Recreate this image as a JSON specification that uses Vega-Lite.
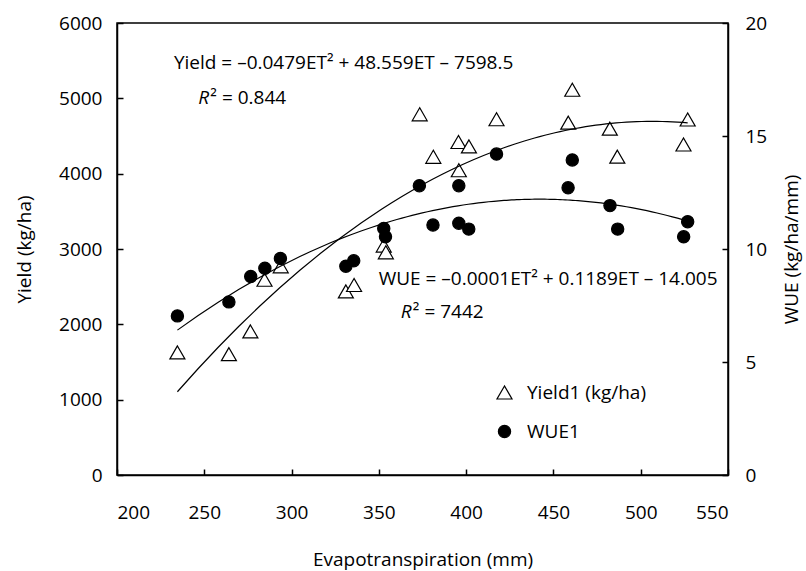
{
  "$schema": "https://vega.github.io/schema/vega-lite/v6.json",
  "width": 611,
  "height": 452,
  "autosize": {"type": "none"},
  "padding": {"left": 117, "top": 23, "right": 78, "bottom": 96},
  "background": "white",
  "config": {
    "font": "Open Sans",
    "view": {"stroke": "black", "strokeWidth": 1.5},
    "axis": {
      "grid": false,
      "domainColor": "black",
      "domainWidth": 1.5,
      "tickColor": "black",
      "tickWidth": 1.5,
      "tickSize": -6,
      "labelColor": "black",
      "labelFont": "Open Sans",
      "labelFontSize": 19,
      "titleFont": "Open Sans",
      "titleFontSize": 19,
      "titleFontWeight": "normal",
      "titleColor": "black"
    },
    "legend": {
      "orient": "none",
      "legendX": 378,
      "legendY": 360,
      "padding": 0,
      "labelFont": "Open Sans",
      "labelFontSize": 19,
      "labelColor": "black",
      "labelOffset": 13,
      "rowPadding": 19,
      "symbolStrokeColor": "black",
      "symbolStrokeWidth": 1.2
    }
  },
  "datasets": {
    "points": [
      {"ET": 234.6, "series": "Yield1 (kg/ha)", "value": 1628},
      {"ET": 264.1, "series": "Yield1 (kg/ha)", "value": 1604},
      {"ET": 276.4, "series": "Yield1 (kg/ha)", "value": 1907},
      {"ET": 284.5, "series": "Yield1 (kg/ha)", "value": 2592},
      {"ET": 293.8, "series": "Yield1 (kg/ha)", "value": 2770},
      {"ET": 331.1, "series": "Yield1 (kg/ha)", "value": 2438},
      {"ET": 335.8, "series": "Yield1 (kg/ha)", "value": 2522},
      {"ET": 352.8, "series": "Yield1 (kg/ha)", "value": 3046},
      {"ET": 354.0, "series": "Yield1 (kg/ha)", "value": 2956},
      {"ET": 373.4, "series": "Yield1 (kg/ha)", "value": 4788},
      {"ET": 381.2, "series": "Yield1 (kg/ha)", "value": 4224},
      {"ET": 395.6, "series": "Yield1 (kg/ha)", "value": 4420},
      {"ET": 395.8, "series": "Yield1 (kg/ha)", "value": 4045},
      {"ET": 401.6, "series": "Yield1 (kg/ha)", "value": 4362},
      {"ET": 417.4, "series": "Yield1 (kg/ha)", "value": 4722},
      {"ET": 458.5, "series": "Yield1 (kg/ha)", "value": 4677},
      {"ET": 460.8, "series": "Yield1 (kg/ha)", "value": 5114},
      {"ET": 482.3, "series": "Yield1 (kg/ha)", "value": 4598},
      {"ET": 486.6, "series": "Yield1 (kg/ha)", "value": 4226},
      {"ET": 524.5, "series": "Yield1 (kg/ha)", "value": 4387},
      {"ET": 526.9, "series": "Yield1 (kg/ha)", "value": 4719},
      {"ET": 234.6, "series": "WUE1", "value": 7.04},
      {"ET": 264.1, "series": "WUE1", "value": 7.66},
      {"ET": 276.6, "series": "WUE1", "value": 8.78},
      {"ET": 284.7, "series": "WUE1", "value": 9.15},
      {"ET": 293.6, "series": "WUE1", "value": 9.58},
      {"ET": 331.1, "series": "WUE1", "value": 9.24},
      {"ET": 335.6, "series": "WUE1", "value": 9.48},
      {"ET": 352.8, "series": "WUE1", "value": 10.91},
      {"ET": 353.8, "series": "WUE1", "value": 10.54},
      {"ET": 373.2, "series": "WUE1", "value": 12.80},
      {"ET": 381.0, "series": "WUE1", "value": 11.06},
      {"ET": 395.8, "series": "WUE1", "value": 12.80},
      {"ET": 395.8, "series": "WUE1", "value": 11.14},
      {"ET": 401.5, "series": "WUE1", "value": 10.88},
      {"ET": 417.4, "series": "WUE1", "value": 14.20},
      {"ET": 458.4, "series": "WUE1", "value": 12.71},
      {"ET": 460.8, "series": "WUE1", "value": 13.94},
      {"ET": 482.4, "series": "WUE1", "value": 11.92},
      {"ET": 486.8, "series": "WUE1", "value": 10.88},
      {"ET": 524.6, "series": "WUE1", "value": 10.54},
      {"ET": 526.9, "series": "WUE1", "value": 11.21}
    ],
    "notes": [
      {"ET": 232.6, "value": 5465, "part": "eq", "label": "Yield = –0.0479ET² + 48.559ET – 7598.5"},
      {"ET": 246.6, "value": 5000, "part": "r", "label": "R"},
      {"ET": 246.6, "value": 5000, "part": "rest", "label": "² = 0.844"},
      {"ET": 349.9, "value": 2605, "part": "eq", "label": "WUE = –0.0001ET² + 0.1189ET – 14.005"},
      {"ET": 362.6, "value": 2158, "part": "r", "label": "R"},
      {"ET": 362.6, "value": 2158, "part": "rest", "label": "² = 7442"}
    ]
  },
  "layer": [
    {
      "encoding": {
        "x": {
          "field": "ET",
          "type": "quantitative",
          "scale": {"domain": [200, 550], "nice": false},
          "axis": {
            "title": "Evapotranspiration (mm)",
            "values": [200, 250, 300, 350, 400, 450, 500, 550],
            "labelPadding": 34,
            "titlePadding": 28
          }
        },
        "y": {
          "field": "value",
          "type": "quantitative",
          "scale": {"domain": [0, 6000], "nice": false},
          "axis": {
            "title": "Yield (kg/ha)",
            "orient": "left",
            "format": "d",
            "values": [0, 1000, 2000, 3000, 4000, 5000, 6000],
            "labelPadding": 21,
            "titlePadding": 24
          }
        }
      },
      "layer": [
        {
          "data": {"name": "points"},
          "transform": [{"filter": "datum.series === 'Yield1 (kg/ha)'"}],
          "mark": {"type": "point", "filled": true, "strokeWidth": 1.2, "opacity": 1},
          "encoding": {
            "shape": {"field": "series", "type": "nominal", "scale": {"domain": ["Yield1 (kg/ha)", "WUE1"], "range": ["triangle-up", "circle"]}, "legend": {"title": null}},
            "fill": {"field": "series", "type": "nominal", "scale": {"domain": ["Yield1 (kg/ha)", "WUE1"], "range": ["white", "black"]}, "legend": {"title": null}},
            "stroke": {"field": "series", "type": "nominal", "scale": {"domain": ["Yield1 (kg/ha)", "WUE1"], "range": ["black", "black"]}, "legend": {"title": null}},
            "size": {"field": "series", "type": "nominal", "scale": {"domain": ["Yield1 (kg/ha)", "WUE1"], "range": [225, 150]}, "legend": {"title": null}}
          }
        },
        {
          "data": {"name": "points"},
          "transform": [
            {"filter": "datum.series === 'Yield1 (kg/ha)'"},
            {"regression": "value", "on": "ET", "method": "poly", "order": 2}
          ],
          "mark": {"type": "line", "color": "black", "strokeWidth": 1.2},
          "encoding": {}
        },
        {
          "data": {"name": "notes"},
          "transform": [{"filter": "datum.part === 'eq'"}],
          "mark": {"type": "text", "align": "left", "baseline": "middle", "fontSize": 19, "font": "Open Sans", "color": "black"},
          "encoding": {"text": {"field": "label"}}
        },
        {
          "data": {"name": "notes"},
          "transform": [{"filter": "datum.part === 'r'"}],
          "mark": {"type": "text", "align": "left", "baseline": "middle", "fontSize": 19, "font": "Open Sans", "fontStyle": "italic", "color": "black"},
          "encoding": {"text": {"field": "label"}}
        },
        {
          "data": {"name": "notes"},
          "transform": [{"filter": "datum.part === 'rest'"}],
          "mark": {"type": "text", "align": "left", "baseline": "middle", "fontSize": 19, "font": "Open Sans", "dx": 12, "color": "black"},
          "encoding": {"text": {"field": "label"}}
        }
      ]
    },
    {
      "encoding": {
        "x": {"field": "ET", "type": "quantitative", "scale": {"domain": [200, 550], "nice": false}},
        "y": {
          "field": "value",
          "type": "quantitative",
          "scale": {"domain": [0, 20], "nice": false},
          "axis": {
            "title": "WUE (kg/ha/mm)",
            "orient": "right",
            "values": [0, 5, 10, 15, 20],
            "labelPadding": 23,
            "titlePadding": 16,
            "titleAngle": 270,
            "titleBaseline": "top"
          }
        }
      },
      "layer": [
        {
          "data": {"name": "points"},
          "transform": [{"filter": "datum.series === 'WUE1'"}],
          "mark": {"type": "point", "filled": true, "strokeWidth": 1.2, "opacity": 1},
          "encoding": {
            "shape": {"field": "series", "type": "nominal", "scale": {"domain": ["Yield1 (kg/ha)", "WUE1"], "range": ["triangle-up", "circle"]}, "legend": {"title": null}},
            "fill": {"field": "series", "type": "nominal", "scale": {"domain": ["Yield1 (kg/ha)", "WUE1"], "range": ["white", "black"]}, "legend": {"title": null}},
            "stroke": {"field": "series", "type": "nominal", "scale": {"domain": ["Yield1 (kg/ha)", "WUE1"], "range": ["black", "black"]}, "legend": {"title": null}},
            "size": {"field": "series", "type": "nominal", "scale": {"domain": ["Yield1 (kg/ha)", "WUE1"], "range": [225, 150]}, "legend": {"title": null}}
          }
        },
        {
          "data": {"name": "points"},
          "transform": [
            {"filter": "datum.series === 'WUE1'"},
            {"regression": "value", "on": "ET", "method": "poly", "order": 2}
          ],
          "mark": {"type": "line", "color": "black", "strokeWidth": 1.2},
          "encoding": {}
        }
      ]
    }
  ],
  "resolve": {"scale": {"y": "independent"}}
}
